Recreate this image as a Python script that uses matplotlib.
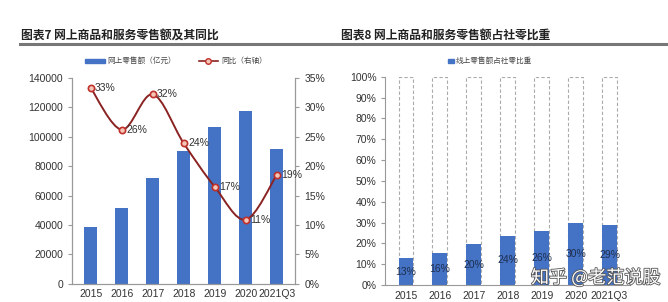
import matplotlib
matplotlib.use('Agg')
import matplotlib.pyplot as plt
import matplotlib.patheffects as pe
from matplotlib.path import Path
from matplotlib.patches import PathPatch
import numpy as np

plt.rcParams['font.family'] = ['Liberation Sans', 'Noto Sans CJK SC', 'DejaVu Sans']

years = ['2015', '2016', '2017', '2018', '2019', '2020', '2021Q3']
sales = [38800, 51600, 71800, 90100, 106300, 117600, 91900]   # 网上零售额（亿元）
yoy = [33.3, 26.2, 32.2, 23.9, 16.5, 10.9, 18.5]                 # 同比 %
yoy_labels = ['33%', '26%', '32%', '24%', '17%', '11%', '19%']
share = [12.9, 15.5, 19.6, 23.6, 25.9, 30.0, 29.0]              # 占社零比重 %
share_labels = ['13%', '16%', '20%', '24%', '26%', '30%', '29%']

BLUE = '#4472C4'
CJK = ['Noto Sans CJK SC', 'DejaVu Sans']

fig = plt.figure(figsize=(6.68, 3.02), dpi=100)

# titles and underlines
fig.text(0.032, 0.87, '图表7 网上商品和服务零售额及其同比', family=CJK,
         fontsize=8.5, fontweight='bold', color='#222222')
fig.text(0.511, 0.87, '图表8 网上商品和服务零售额占社零比重', family=CJK,
         fontsize=8.5, fontweight='bold', color='#222222')
fig.add_artist(plt.Line2D([0.03, 0.494], [0.855, 0.855], color='#777777', lw=2.2))
fig.add_artist(plt.Line2D([0.497, 0.997], [0.855, 0.855], color='#777777', lw=2.2))


def smooth_path(xs, ys):
    # Catmull-Rom -> cubic bezier through the data points
    pts = np.column_stack([xs, ys]).astype(float)
    verts = [pts[0]]
    codes = [Path.MOVETO]
    n = len(pts)
    for i in range(n - 1):
        p0 = pts[max(i - 1, 0)]
        p1 = pts[i]
        p2 = pts[i + 1]
        p3 = pts[min(i + 2, n - 1)]
        c1 = p1 + (p2 - p0) / 6.0
        c2 = p2 - (p3 - p1) / 6.0
        verts += [c1, c2, p2]
        codes += [Path.CURVE4] * 3
    return Path(verts, codes)


# ---- left chart
ax = fig.add_axes([0.108, 0.06, 0.334, 0.682])
x = np.arange(len(years))
ax.bar(x, sales, width=0.42, color=BLUE, zorder=2)
ax.set_ylim(0, 140000)
ax.set_yticks(range(0, 140001, 20000))
ax.set_xlim(-0.6, len(years) - 0.4)
ax.set_xticks(x)
ax.set_xticklabels(years)
ax.spines['top'].set_visible(False)
for s in ['left', 'right', 'bottom']:
    ax.spines[s].set_color('#999999')
ax.tick_params(labelsize=7.5, colors='#333333', length=3, color='#999999')
ax.tick_params(axis='x', length=0, pad=4)

ax2 = ax.twinx()
ax2.set_ylim(0, 35)
ax2.set_yticks(range(0, 36, 5))
ax2.set_yticklabels([f'{v}%' for v in range(0, 36, 5)])
ax2.spines['top'].set_visible(False)
for s in ['left', 'right', 'bottom']:
    ax2.spines[s].set_color('#999999')
ax2.tick_params(labelsize=7.5, colors='#333333', length=3, color='#999999')
ax2.add_patch(PathPatch(smooth_path(x, yoy), fill=False, edgecolor='#8B2323',
                        lw=1.4, zorder=3))
ax2.plot(x, yoy, 'o', ms=4.5, mfc='#F4C6B8', mec='#C0302A', mew=1.2, zorder=4)
for xi, v, lab in zip(x, yoy, yoy_labels):
    ax2.text(xi + 0.14, v, lab, fontsize=7.5, color='#333333', va='center', ha='left')

# legend left
fig.patches.append(plt.Rectangle((0.127, 0.79), 0.03, 0.016, color=BLUE,
                                 transform=fig.transFigure, figure=fig))
fig.text(0.161, 0.798, '网上零售额（亿元）', family=CJK, fontsize=5.5,
         color='#444444', va='center')
fig.add_artist(plt.Line2D([0.298, 0.326], [0.798, 0.798], color='#8B2323', lw=1.2))
fig.add_artist(plt.Line2D([0.312], [0.798], marker='o', ms=4, mfc='#F4C6B8',
                          mec='#C0302A', mew=1))
fig.text(0.331, 0.798, '同比（右轴）', family=CJK, fontsize=5.5,
         color='#444444', va='center')

# ---- right chart
bx = fig.add_axes([0.577, 0.056, 0.366, 0.69])
xr = np.arange(len(years))
bx.bar(xr, [100] * len(years), width=0.43, facecolor='none', edgecolor='#AAAAAA',
       ls=(0, (3, 2)), lw=0.8, zorder=1)
bx.bar(xr, share, width=0.43, color=BLUE, zorder=2)
for xi, v, lab in zip(xr, share, share_labels):
    bx.text(xi, v / 2, lab, fontsize=7.5, color='#1F2F4F', ha='center', va='center',
            zorder=3)
bx.set_ylim(0, 100)
bx.set_yticks(range(0, 101, 10))
bx.set_yticklabels([f'{v}%' for v in range(0, 101, 10)])
bx.set_xlim(-0.6, len(years) - 0.4)
bx.set_xticks(xr)
bx.set_xticklabels(years)
bx.spines['top'].set_visible(False)
bx.spines['right'].set_visible(False)
for s in ['left', 'bottom']:
    bx.spines[s].set_color('#999999')
bx.tick_params(labelsize=7.5, colors='#333333', length=3, color='#999999')
bx.tick_params(axis='x', length=0, pad=4)

fig.patches.append(plt.Rectangle((0.671, 0.79), 0.008, 0.016, color=BLUE,
                                 transform=fig.transFigure, figure=fig))
fig.text(0.682, 0.798, '线上零售额占社零比重', family=CJK, fontsize=5.5,
         color='#444444', va='center')

# watermark
fig.text(0.795, 0.08, '知乎 @老范说股', family=CJK, fontsize=13, color='white',
         va='center', ha='left',
         path_effects=[pe.withStroke(linewidth=1.2, foreground='#555555')])

fig.savefig('out.png', dpi=100)
